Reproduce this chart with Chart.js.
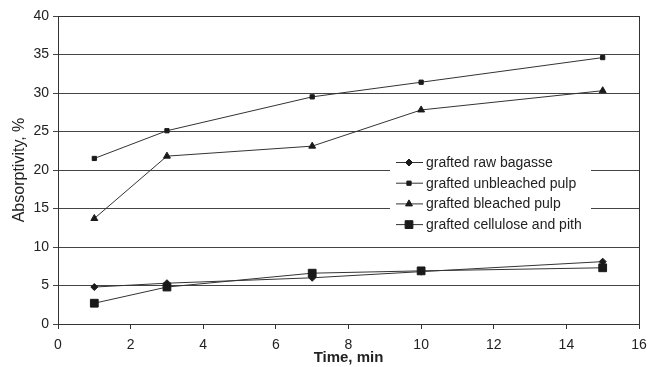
<!DOCTYPE html>
<html>
<head>
<meta charset="utf-8">
<script src="https://cdn.jsdelivr.net/npm/chart.js@4/dist/chart.umd.min.js"></script>
<style>
  html, body { margin: 0; padding: 0; background: #fff; }
  #wrap { width: 648px; height: 367px; }
</style>
</head>
<body>
<div id="wrap"><canvas id="chart" width="648" height="367"></canvas></div>
<script>
// Data
const times = [1, 3, 7, 10, 15];
const rawBagasse = [4.8, 5.3, 6.0, 6.8, 8.1];
const unbleachedPulp = [21.5, 25.1, 29.5, 31.4, 34.6];
const bleachedPulp = [13.7, 21.8, 23.1, 27.8, 30.3];
const cellulosePith = [2.7, 4.8, 6.6, 6.9, 7.3];

const seriesNames = [
  "grafted raw bagasse",
  "grafted unbleached pulp",
  "grafted bleached pulp",
  "grafted cellulose and pith"
];
const seriesValues = [rawBagasse, unbleachedPulp, bleachedPulp, cellulosePith];
const markers = [
  { style: "rectRot", radius: 3.5 },
  { style: "rect", radius: 3 },
  { style: "triangle", radius: 4 },
  { style: "rect", radius: 5.5 }
];

const ink = "#1a1a1a";
const font = "'Liberation Sans', Arial, sans-serif";

const datasets = seriesNames.map((name, i) => ({
  label: name,
  data: times.map((t, j) => ({ x: t, y: seriesValues[i][j] })),
  borderColor: "#333",
  borderWidth: 1,
  backgroundColor: ink,
  pointStyle: markers[i].style,
  pointRadius: markers[i].radius,
  pointBorderColor: ink,
  pointBackgroundColor: ink,
  pointBorderWidth: 1,
  tension: 0
}));

// frame around the plot area (top and right edges)
const frame = {
  id: "frame",
  afterDraw(chart) {
    const { ctx, chartArea: a } = chart;
    ctx.save();
    ctx.strokeStyle = "#333";
    ctx.lineWidth = 1;
    ctx.strokeRect(a.left + 0.5, a.top + 0.5, a.right - a.left, a.bottom - a.top);
    ctx.restore();
  }
};

// legend box inside the plot
const innerLegend = {
  id: "innerLegend",
  afterDatasetsDraw(chart) {
    const { ctx } = chart;
    const x0 = 390, y0 = 151, w = 201, h = 87;
    ctx.save();
    ctx.fillStyle = "#fff";
    ctx.fillRect(x0, y0, w, h);
    ctx.font = "14px " + font;
    ctx.textBaseline = "middle";
    chart.data.datasets.forEach((ds, i) => {
      const y = 162 + i * 20.7;
      ctx.strokeStyle = "#333";
      ctx.lineWidth = 1;
      ctx.beginPath();
      ctx.moveTo(396, y + 0.5);
      ctx.lineTo(423, y + 0.5);
      ctx.stroke();
      ctx.fillStyle = ink;
      ctx.strokeStyle = ink;
      Chart.helpers.drawPoint(ctx, {
        pointStyle: ds.pointStyle,
        radius: ds.pointRadius,
        borderWidth: 1
      }, 409, y + 0.5);
      ctx.fillStyle = "#222";
      ctx.fillText(ds.label, 426, y + 1);
    });
    ctx.restore();
  }
};

new Chart(document.getElementById("chart"), {
  type: "line",
  data: { datasets },
  options: {
    responsive: false,
    animation: false,
    layout: { padding: { top: 16, right: 9, left: 0, bottom: 0 } },
    plugins: {
      legend: { display: false },
      tooltip: { enabled: false }
    },
    scales: {
      x: {
        type: "linear",
        min: 0,
        max: 16,
        ticks: {
          stepSize: 2,
          color: "#222",
          padding: 8,
          font: { family: font, size: 14 }
        },
        grid: {
          display: true,
          drawOnChartArea: false,
          drawTicks: true,
          tickLength: 5,
          color: "#333"
        },
        border: { display: true, color: "#333" },
        title: {
          display: true,
          text: "Time, min",
          color: "#222",
          padding: { top: 0, bottom: 0 },
          font: { family: font, size: 15, weight: "bold" }
        },
        afterFit(scale) {
          scale.height = 43;
          scale.paddingLeft = 0;
          scale.paddingRight = 0;
        }
      },
      y: {
        min: 0,
        max: 40,
        ticks: {
          stepSize: 5,
          color: "#222",
          padding: 4,
          font: { family: font, size: 14 }
        },
        grid: {
          color: "#444",
          lineWidth: 1,
          drawTicks: true,
          tickLength: 5
        },
        border: { display: true, color: "#333" },
        title: {
          display: true,
          text: "Absorptivity, %",
          color: "#222",
          padding: { top: 10, bottom: 0 },
          font: { family: font, size: 16 }
        },
        afterFit(scale) { scale.width = 58; }
      }
    }
  },
  plugins: [frame, innerLegend]
});
</script>
</body>
</html>
